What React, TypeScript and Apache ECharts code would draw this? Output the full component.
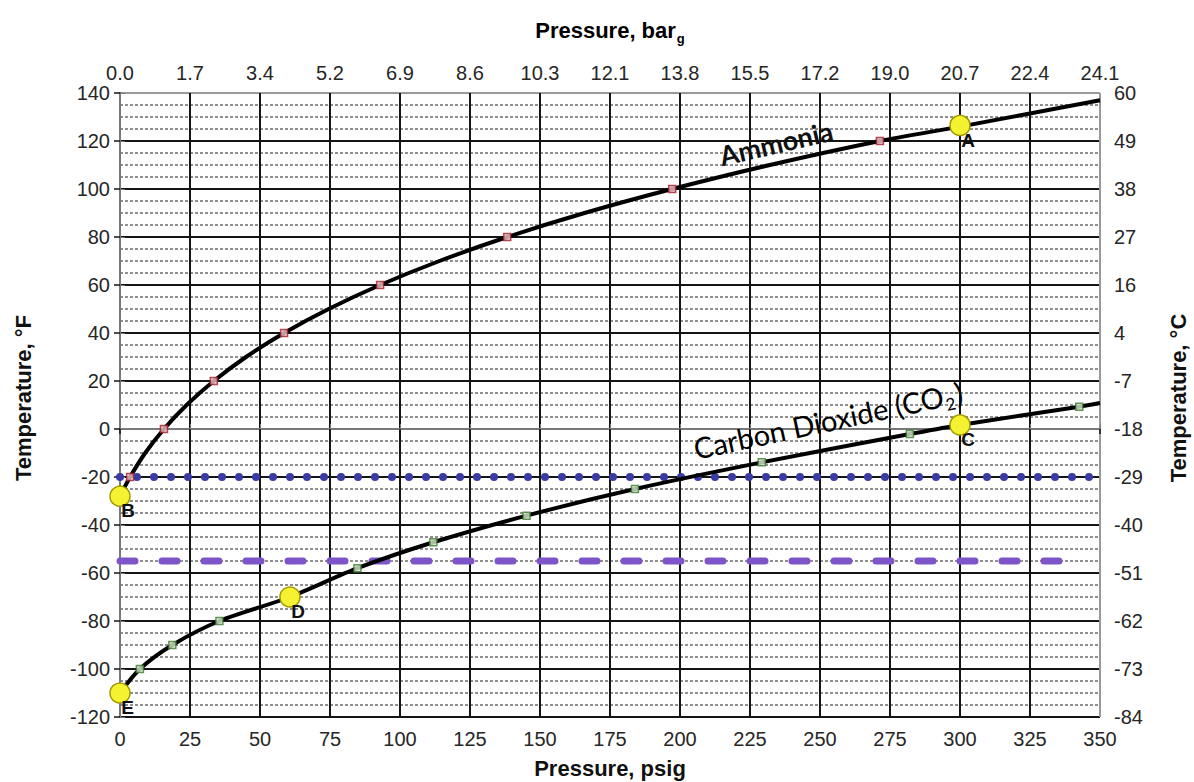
import React, { useEffect, useRef } from "react";
import * as echarts from "echarts";

// ---- Tick labels ----
const psigMin = 0;
const psigMax = 350;
const psigStep = 25;
const tempMin = -120;
const tempMax = 140;
const tempStep = 20;
const barTickLabels = ["0.0", "1.7", "3.4", "5.2", "6.9", "8.6", "10.3", "12.1", "13.8", "15.5", "17.2", "19.0", "20.7", "22.4", "24.1"];
const celsiusTickLabels = ["-84", "-73", "-62", "-51", "-40", "-29", "-18", "-7", "4", "16", "27", "38", "49", "60"];

// ---- Ammonia saturation curve (psig, °F) ----
const ammoniaCurveP = [0, 3.6, 9.0, 15.7, 23.8, 33.5, 45.0, 58.6, 74.5, 92.9, 114.1, 138.3, 165.9, 197.2, 232.1, 271.4, 300, 350];
const ammoniaCurveT = [-28, -20, -10, 0, 10, 20, 30, 40, 50, 60, 70, 80, 90, 100, 110, 120, 126, 137];
const ammoniaMarkP = [3.6, 15.7, 33.5, 58.6, 92.9, 138.3, 197.2, 271.4];
const ammoniaMarkT = [-20, 0, 20, 40, 60, 80, 100, 120];

// ---- Carbon dioxide curve (psig, °F) ----
const co2CurveP = [0, 7.1, 18.7, 35.5, 60.7, 84.8, 111.9, 145.2, 183.9, 229.2, 282.1, 300, 342.6, 350];
const co2CurveT = [-110, -100, -90, -80, -70, -58, -47.2, -36.1, -25, -13.9, -2.1, 1.7, 9.3, 10.8];
const co2MarkP = [7.1, 18.7, 35.5, 84.8, 111.9, 145.2, 183.9, 229.2, 282.1, 342.6];
const co2MarkT = [-100, -90, -80, -58, -47.2, -36.1, -25, -13.9, -2.1, 9.3];

// ---- Key points ----
const keyLabels = ["A", "B", "C", "D", "E"];
const keyP = [300, 0, 300, 60.7, 0];
const keyT = [126.5, -28, 1.7, -70, -110];

// ---- Reference lines ----
const dottedLineP = [0, 350];
const dottedLineT = [-20, -20];
const dashedLineP = [0, 342];
const dashedLineT = [-55, -55];

const zip = (a: number[], b: number[]) => a.map((v, i) => [v, b[i]]);

const axisFont = '"Liberation Sans", Arial, Helvetica, sans-serif';
const labelFont = 'Lato, "Open Sans", "Liberation Sans", sans-serif';

export default function App() {
  const ref = useRef<HTMLDivElement>(null);

  useEffect(() => {
    if (!ref.current) return;
    const chart = echarts.init(ref.current, null, { renderer: "svg" });

    const xCount = Math.round((psigMax - psigMin) / psigStep) + 1;
    const yCount = Math.round((tempMax - tempMin) / tempStep) + 1;
    const xSplitColors = Array.from({ length: xCount }, (_, i) => (i === xCount - 1 ? "#9a9a9a" : "#151515"));
    const ySplitColors = Array.from({ length: yCount }, (_, i) => (i === yCount - 1 ? "#9a9a9a" : "#151515"));

    const tickLabelStyle = { fontFamily: axisFont, fontSize: 20, color: "#262626" };

    const option: any = {
      animation: false,
      backgroundColor: "#ffffff",
      grid: { left: 120, right: 94, top: 93, bottom: 65, containLabel: false },
      xAxis: [
        {
          type: "value",
          min: psigMin,
          max: psigMax,
          interval: psigStep,
          position: "bottom",
          axisLine: { show: true, lineStyle: { color: "#151515", width: 2 } },
          axisTick: { show: true, length: 5, lineStyle: { color: "#151515", width: 1.5 } },
          axisLabel: { ...tickLabelStyle, margin: 12 },
          splitLine: { show: true, lineStyle: { color: xSplitColors, width: 2 } },
        },
        {
          type: "value",
          min: psigMin,
          max: psigMax,
          interval: psigStep,
          position: "top",
          axisLine: { show: true, lineStyle: { color: "#9a9a9a", width: 1.5 } },
          axisTick: { show: true, length: 5, lineStyle: { color: "#777", width: 1 } },
          axisLabel: {
            ...tickLabelStyle,
            margin: 10,
            formatter: (v: number) => barTickLabels[Math.round((v - psigMin) / psigStep)] ?? "",
          },
          splitLine: { show: false },
        },
      ],
      yAxis: [
        {
          type: "value",
          min: tempMin,
          max: tempMax,
          interval: tempStep,
          position: "left",
          axisLine: { show: true, lineStyle: { color: "#151515", width: 2 } },
          axisTick: { show: true, length: 6, lineStyle: { color: "#151515", width: 1.5 } },
          axisLabel: { ...tickLabelStyle, margin: 10 },
          splitLine: { show: true, lineStyle: { color: ySplitColors, width: 2 } },
          minorTick: { show: false, splitNumber: 4 },
          minorSplitLine: { show: true, lineStyle: { color: "#8f8f8f", width: 2, type: [3, 2] } },
        },
        {
          type: "value",
          min: tempMin,
          max: tempMax,
          interval: tempStep,
          position: "right",
          axisLine: { show: true, lineStyle: { color: "#9a9a9a", width: 1.5 } },
          axisTick: { show: true, length: 5, lineStyle: { color: "#777", width: 1 } },
          axisLabel: {
            ...tickLabelStyle,
            margin: 14,
            formatter: (v: number) => celsiusTickLabels[Math.round((v - tempMin) / tempStep)] ?? "",
          },
          splitLine: { show: false },
        },
      ],
      series: [
        {
          name: "dotted",
          type: "line",
          data: zip(dottedLineP, dottedLineT),
          showSymbol: false,
          symbol: "none",
          lineStyle: { color: "#3b3ba6", width: 8, type: [0, 17], cap: "round" },
          z: 2,
          silent: true,
        },
        {
          name: "dashed",
          type: "line",
          data: zip(dashedLineP, dashedLineT),
          showSymbol: false,
          symbol: "none",
          lineStyle: { color: "#7d55c8", width: 7, type: [15, 27], cap: "round" },
          z: 2,
          silent: true,
        },
        {
          name: "Ammonia",
          type: "line",
          data: zip(ammoniaCurveP, ammoniaCurveT),
          smooth: 0.3,
          showSymbol: false,
          symbol: "none",
          lineStyle: { color: "#000", width: 4 },
          z: 3,
        },
        {
          name: "Carbon Dioxide",
          type: "line",
          data: zip(co2CurveP, co2CurveT),
          smooth: 0.3,
          showSymbol: false,
          symbol: "none",
          lineStyle: { color: "#000", width: 4 },
          z: 3,
        },
        {
          name: "Ammonia points",
          type: "scatter",
          data: zip(ammoniaMarkP, ammoniaMarkT),
          symbol: "rect",
          symbolSize: 7,
          itemStyle: { color: "#f2c4c4", borderColor: "#a11d2e", borderWidth: 1.5 },
          z: 4,
        },
        {
          name: "CO2 points",
          type: "scatter",
          data: zip(co2MarkP, co2MarkT),
          symbol: "rect",
          symbolSize: 7,
          itemStyle: { color: "#d6ecce", borderColor: "#3b7a2c", borderWidth: 1.5 },
          z: 4,
        },
        {
          name: "Key points",
          type: "scatter",
          data: zip(keyP, keyT),
          symbol: "circle",
          symbolSize: 20,
          itemStyle: { color: "#f5f232", borderColor: "#a09a00", borderWidth: 1.5, opacity: 1 },
          label: {
            show: true,
            position: [12, 16],
            align: "left",
            verticalAlign: "top",
            formatter: (p: any) => keyLabels[p.dataIndex],
            fontFamily: axisFont,
            fontWeight: "bold",
            fontSize: 19,
            color: "#111111",
            opacity: 1,
          },
          z: 5,
        },
      ],
      graphic: [
        {
          type: "text",
          x: 776,
          y: 143,
          rotation: (13 * Math.PI) / 180,
          z: 10,
          style: { text: "Ammonia", font: `bold 27px ${labelFont}`, fill: "#111", align: "center", verticalAlign: "middle" },
        },
        {
          type: "text",
          x: 828,
          y: 420,
          rotation: (12 * Math.PI) / 180,
          z: 10,
          style: {
            text: "{a|Carbon Dioxide (CO}{s|2}{a|)}",
            align: "center",
            verticalAlign: "middle",
            rich: {
              a: { fontFamily: labelFont, fontSize: 29, color: "#111", lineHeight: 36, verticalAlign: "middle" },
              s: { fontFamily: labelFont, fontSize: 17, color: "#111", lineHeight: 36, verticalAlign: "bottom", padding: [14, 1, 0, 1] },
            },
          },
        },
        {
          type: "text",
          x: 610,
          y: 30,
          style: {
            text: "{a|Pressure, bar}{s|g}",
            align: "center",
            verticalAlign: "middle",
            rich: {
              a: { fontFamily: axisFont, fontWeight: "bold", fontSize: 22, color: "#111", lineHeight: 30 },
              s: { fontFamily: axisFont, fontWeight: "bold", fontSize: 13, color: "#111", lineHeight: 30, verticalAlign: "bottom", padding: [10, 0, 0, 1] },
            },
          },
        },
        {
          type: "text",
          x: 610,
          y: 768,
          style: { text: "Pressure, psig", font: `bold 22px ${axisFont}`, fill: "#111", align: "center", verticalAlign: "middle" },
        },
        {
          type: "text",
          x: 23,
          y: 398,
          rotation: Math.PI / 2,
          style: { text: "Temperature, °F", font: `bold 22px ${axisFont}`, fill: "#111", align: "center", verticalAlign: "middle" },
        },
        {
          type: "text",
          x: 1178,
          y: 398,
          rotation: Math.PI / 2,
          style: { text: "Temperature, °C", font: `bold 22px ${axisFont}`, fill: "#111", align: "center", verticalAlign: "middle" },
        },
      ],
    };

    chart.setOption(option);
    return () => chart.dispose();
  }, []);

  return (
    <div
      ref={ref}
      style={{ position: "fixed", left: 0, top: 0, width: 1194, height: 782, background: "#fff" }}
    />
  );
}
